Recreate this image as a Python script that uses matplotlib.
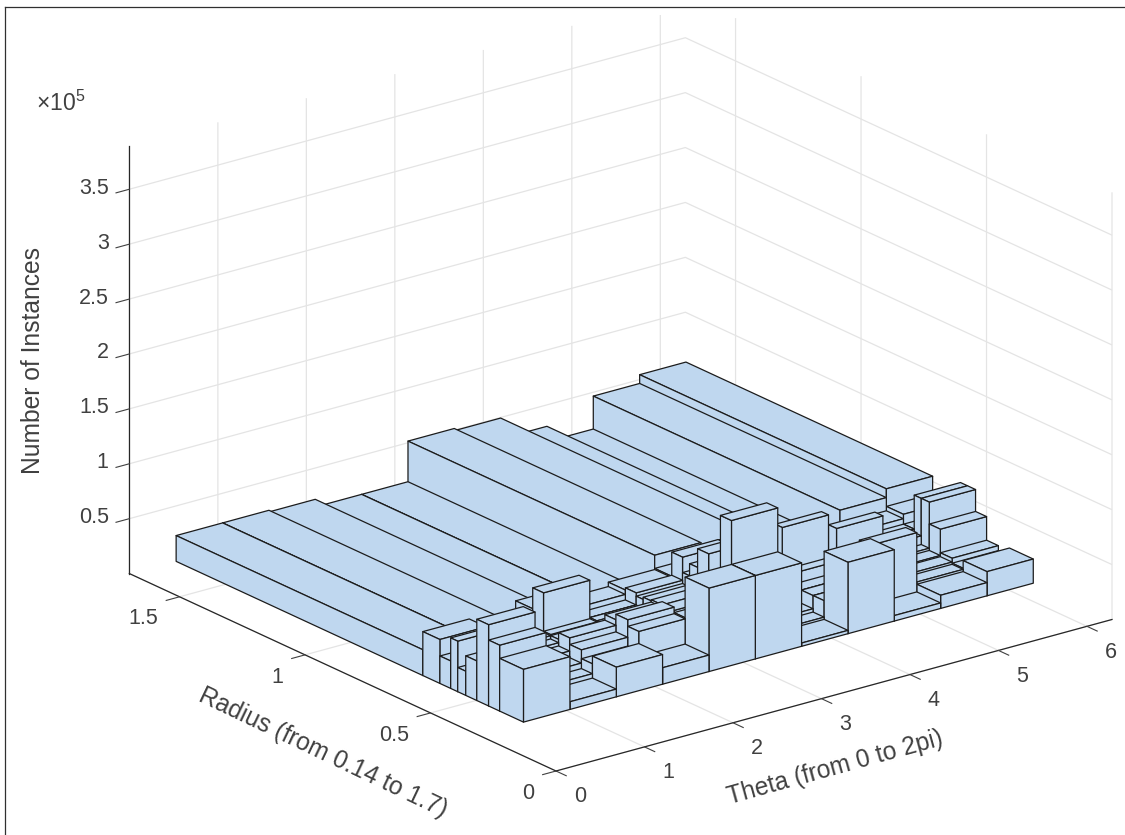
#!/usr/bin/env python3
"""3D histogram of instance counts over theta and radius bins."""

import matplotlib
matplotlib.use("Agg")
import matplotlib.pyplot as plt
from matplotlib.lines import Line2D
from matplotlib.patches import Rectangle
from mpl_toolkits.mplot3d import proj3d
from mpl_toolkits.mplot3d.art3d import Poly3DCollection

THETA_EDGES = [0.520, 1.045, 1.569, 2.092, 2.616, 3.140, 3.663, 4.187, 4.710, 5.234, 5.758, 6.281]
RADIUS_EDGES = [0.313, 0.408, 0.452, 0.499, 0.543, 0.575, 0.603, 0.646, 0.714, 1.697]

# counts in units of 1e5, one list per theta bin, radius bins low to high
COUNTS_1 = [0.48, 0.60, 0.74, 0.36, 0.22, 0.46, 0.25, 0.40, 0.235]
COUNTS_2 = [0.07, 0.11, 0.16, 0.22, 0.25, 0.28, 0.28, 0.30, 0.235]
COUNTS_3 = [0.27, 0.20, 0.28, 0.34, 0.28, 0.29, 0.64, 0.45, 0.22]
COUNTS_4 = [0.15, 0.38, 0.44, 0.39, 0.30, 0.30, 0.30, 0.35, 0.15]
COUNTS_5 = [0.76, 0.39, 0.41, 0.41, 0.40, 0.38, 0.41, 0.39, 0.15]
COUNTS_6 = [0.76, 1.16, 0.50, 0.76, 0.59, 0.48, 0.62, 0.40, 0.52]
COUNTS_7 = [0.03, 0.05, 0.08, 0.13, 0.18, 0.24, 0.30, 0.30, 0.50]
COUNTS_8 = [0.65, 0.20, 0.20, 0.20, 0.30, 0.69, 0.45, 0.40, 0.31]
COUNTS_9 = [0.05, 0.59, 0.30, 0.30, 0.60, 0.30, 0.30, 0.30, 0.17]
COUNTS_10 = [0.12, 0.14, 0.16, 0.17, 0.19, 0.27, 0.30, 0.35, 0.47]
COUNTS_11 = [0.22, 0.15, 0.195, 0.41, 0.61, 0.61, 0.30, 0.39, 0.55]
ALL_COUNTS = [COUNTS_1, COUNTS_2, COUNTS_3, COUNTS_4, COUNTS_5, COUNTS_6,
              COUNTS_7, COUNTS_8, COUNTS_9, COUNTS_10, COUNTS_11]

THETA_TICKS = [0, 1, 2, 3, 4, 5, 6]
RADIUS_TICKS = [0, 0.5, 1, 1.5]
RADIUS_TICK_LABELS = ["0", "0.5", "1", "1.5"]
COUNT_TICKS = [0.5e5, 1e5, 1.5e5, 2e5, 2.5e5, 3e5, 3.5e5]
COUNT_TICK_LABELS = ["0.5", "1", "1.5", "2", "2.5", "3", "3.5"]

THETA_MAX = 6.283
RADIUS_MAX = 1.7
COUNT_MAX = 3.89e5

W, H = 1125, 835
TEXT_COLOUR = "#404040"
AXIS_COLOUR = "#262626"
BAR_COLOUR = "#bfd7ef"
TICK_SIZE = 15.5
LABEL_SIZE = 17.7

plt.rcParams["font.family"] = ["Liberation Sans", "DejaVu Sans"]
plt.rcParams["mathtext.default"] = "regular"
plt.rcParams["grid.color"] = "#e4e4e4"
plt.rcParams["grid.linewidth"] = 0.9
plt.rcParams["axes.edgecolor"] = AXIS_COLOUR
plt.rcParams["axes.linewidth"] = 0.8


def bar_faces(t0, t1, r0, r1, h):
    # only the three faces the camera can see
    top = [(t0, r0, h), (t1, r0, h), (t1, r1, h), (t0, r1, h)]
    front = [(t0, r0, 0), (t1, r0, 0), (t1, r0, h), (t0, r0, h)]
    side = [(t0, r0, 0), (t0, r1, 0), (t0, r1, h), (t0, r0, h)]
    return [side, front, top]


def to_px(ax, x, y, z):
    xs, ys, _ = proj3d.proj_transform(x, y, z, ax.get_proj())
    return ax.transData.transform((xs, ys))


fig = plt.figure(figsize=(W / 100, H / 100), dpi=100)
ax = fig.add_axes([0, 0, 1, 1], projection="3d")
ax.set_proj_type("ortho")
ax.view_init(elev=20.8, azim=-127.5)
ax.computed_zorder = False
ax.patch.set_alpha(0)

# back to front, so later bars cover earlier ones
for i in range(len(ALL_COUNTS) - 1, -1, -1):
    for j in range(len(RADIUS_EDGES) - 2, -1, -1):
        faces = bar_faces(THETA_EDGES[i], THETA_EDGES[i + 1],
                          RADIUS_EDGES[j], RADIUS_EDGES[j + 1], ALL_COUNTS[i][j] * 1e5)
        poly = Poly3DCollection(faces, facecolors=BAR_COLOUR, edgecolors="#1c1c1c",
                                linewidths=0.9, clip_on=False)
        ax.add_collection3d(poly)

ax.set_xlim(0, THETA_MAX, view_margin=0)
ax.set_ylim(0, RADIUS_MAX, view_margin=0)
ax.set_zlim(0, COUNT_MAX, view_margin=0)

ax.set_xticks(THETA_TICKS)
ax.set_yticks(RADIUS_TICKS)
ax.set_zticks(COUNT_TICKS)
ax.tick_params(axis="both", labelcolor=TEXT_COLOUR, colors=TEXT_COLOUR)
ax.tick_params(axis="x", pad=5)
ax.tick_params(axis="y", pad=4)
ax.tick_params(axis="z", pad=-1.4)
ax.set_xticklabels([str(t) for t in THETA_TICKS], ha="left", va="center", fontsize=TICK_SIZE)
ax.set_yticklabels(RADIUS_TICK_LABELS, ha="right", va="center", fontsize=TICK_SIZE)
ax.set_zticklabels(COUNT_TICK_LABELS, ha="right", va="center", fontsize=TICK_SIZE)

for axis in (ax.xaxis, ax.yaxis, ax.zaxis):
    axis.set_pane_color((1, 1, 1, 0))
    axis.pane.set_edgecolor("none")
    axis.line.set_color(AXIS_COLOUR)
    axis.line.set_linewidth(0.9)
    axis._axinfo["tick"]["inward_factor"] = 0.3
    axis._axinfo["tick"]["outward_factor"] = 0.0
    axis._axinfo["tick"]["color"] = AXIS_COLOUR
    axis._axinfo["tick"]["linewidth"] = {True: 0.8, False: 0.8}

fig.text(835 / W, 1 - 768 / H, "Theta (from 0 to 2pi)", fontsize=LABEL_SIZE, color=TEXT_COLOUR,
         rotation=15.5, rotation_mode="anchor", ha="center", va="center")
fig.text(323 / W, 1 - 753 / H, "Radius (from 0.14 to 1.7)", fontsize=LABEL_SIZE, color=TEXT_COLOUR,
         rotation=-25.5, rotation_mode="anchor", ha="center", va="center")
fig.text(33 / W, 1 - 360 / H, "Number of Instances", fontsize=LABEL_SIZE, color=TEXT_COLOUR,
         rotation=90, rotation_mode="anchor", ha="center", va="center")
fig.text(36 / W, 1 - 111 / H, "×10$^{5}$", fontsize=16.5, color=TEXT_COLOUR)

# fit scale and offset so the front corner and theta axis land where they should
fig.canvas.draw()
p0 = to_px(ax, 0, 0, 0)
p1 = to_px(ax, THETA_MAX, 0, 0)
zoom = 556.0 / (p1[0] - p0[0])
ax.set_box_aspect((1, 1, 0.652), zoom=zoom)
fig.canvas.draw()
p0 = to_px(ax, 0, 0, 0)
p1 = to_px(ax, THETA_MAX, 0, 0)
ax.set_box_aspect((1, 1, 0.652), zoom=zoom * 556.0 / (p1[0] - p0[0]))
fig.canvas.draw()
p0 = to_px(ax, 0, 0, 0)
pos = ax.get_position()
ax.set_position([pos.x0 + (556 - p0[0]) / W, pos.y0 + ((H - 771) - p0[1]) / H, pos.width, pos.height])

# the reference cuts its gridlines off just under the frame
fig.add_artist(Rectangle((0, 1 - 15 / H), 1, 15 / H, transform=fig.transFigure,
                         facecolor="white", edgecolor="none", zorder=5))

# picture frame, left and top only
fig.add_artist(Line2D([5 / W, 5 / W], [0, 1 - 7 / H], color="#303030", lw=0.9, zorder=6))
fig.add_artist(Line2D([5 / W, 1], [1 - 7 / H, 1 - 7 / H], color="#303030", lw=0.9, zorder=6))

fig.savefig("out.png", dpi=100)
